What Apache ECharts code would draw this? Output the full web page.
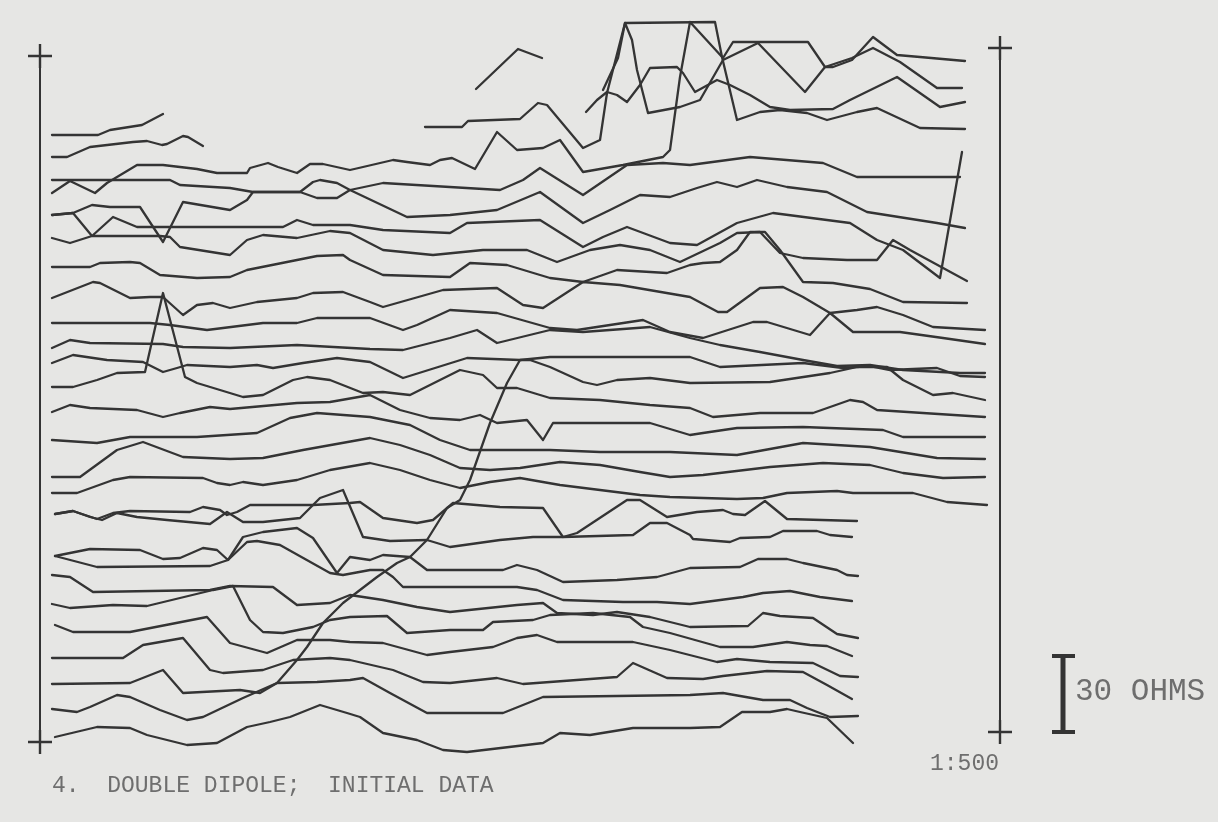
<!DOCTYPE html>
<html>
<head>
<meta charset="utf-8">
<script src="https://cdn.jsdelivr.net/npm/echarts@6/dist/echarts.min.js"></script>
<style>
html,body{margin:0;padding:0;background:#e6e6e4;}
#c{width:1218px;height:822px;}
</style>
</head>
<body>
<div id="c"></div>
<script>
// Distance along the profile (x) and plotted level (y, downward) for each dipole profile.
const p01 = [[12,85],[58,85],[70,80],[102,75],[123,64]];
const p02 = [[12,107],[27,107],[50,97],[93,92],[107,91],[122,95],[127,94],[143,86],[148,87],[163,96]];
const p03 = [[436,39],[478,-1],[502,8]];
const p04 = [[385,77],[422,77],[428,71],[480,69],[498,53],[507,55],[543,98],[560,90],[567,43],[585,-27],[675,-28],[682,7],[697,70],[720,62],[740,60],[767,63],[787,70],[817,62],[837,58],[880,78],[925,79]];
const p05 = [[546,62],[557,50],[567,42],[577,45],[587,52],[600,35],[610,18],[637,17],[643,23],[655,42],[677,30],[690,35],[710,45],[730,57],[750,60],[793,59],[810,50],[857,27],[900,57],[925,52]];
const p06 = [[563,40],[578,8],[585,-27],[592,-10],[597,20],[608,63],[640,57],[660,50],[683,10],[718,-7],[765,42],[785,17],[812,8],[833,-2],[860,12],[897,38],[922,38]];
const p07 = [[12,143],[30,131],[55,143],[67,133],[77,127],[97,115],[123,115],[157,119],[177,123],[207,123],[210,118],[228,113],[238,117],[257,123],[270,114],[283,114],[310,120],[323,117],[353,110],[367,112],[390,115],[400,110],[412,108],[435,119],[457,82],[477,100],[503,98],[520,90],[543,122],[583,115],[623,107],[630,100],[640,27],[650,-28],[683,8],[693,-8],[768,-8],[785,17],[793,17],[812,10],[833,-13],[857,5],[880,7],[925,11]];
const p08 = [[12,130],[130,130],[140,135],[190,138],[213,142],[260,142],[273,132],[280,130],[297,133],[310,140],[367,167],[410,165],[457,160],[500,142],[543,173],[570,160],[600,145],[630,147],[657,138],[677,132],[697,137],[717,130],[747,137],[787,142],[827,162],[897,173],[925,178]];
const p09 = [[12,165],[33,163],[52,155],[70,157],[100,157],[123,192],[143,152],[190,160],[207,150],[213,142],[260,142],[277,148],[297,148],[310,140],[343,133],[460,140],[483,130],[500,118],[543,145],[587,115],[623,113],[650,115],[710,107],[783,113],[817,127],[920,127]];
const p10 = [[12,165],[33,163],[52,186],[120,186],[130,187],[140,197],[190,205],[207,190],[223,185],[257,188],[290,181],[310,183],[343,200],[393,205],[443,200],[487,200],[517,212],[550,200],[580,195],[610,200],[640,212],[680,193],[697,183],[720,182],[740,203],[763,208],[807,210],[837,210],[853,190],[870,200],[927,231]];
const p11 = [[12,188],[30,193],[52,186],[73,167],[97,177],[243,177],[257,170],[273,175],[310,175],[343,180],[410,183],[427,173],[500,170],[543,197],[563,187],[587,177],[630,193],[657,195],[697,173],[733,163],[810,173],[837,190],[863,200],[900,228],[922,102]];
const p12 = [[12,217],[50,217],[60,213],[90,212],[100,213],[120,225],[157,228],[190,227],[207,220],[257,210],[277,206],[303,205],[310,210],[343,225],[410,227],[430,213],[467,215],[510,228],[543,232],[577,220],[627,223],[650,215],[663,213],[680,212],[697,200],[710,182],[725,182],[740,200],[763,232],[793,233],[830,239],[863,252],[927,253]];
const p13 = [[12,248],[53,232],[60,233],[90,248],[110,247],[123,247],[143,265],[157,255],[173,253],[190,258],[217,252],[257,248],[273,243],[303,242],[330,252],[343,257],[403,240],[457,238],[483,255],[503,258],[543,232],[580,235],[650,247],[678,262],[687,262],[720,238],[743,237],[763,247],[790,263],[817,260],[837,257],[863,265],[893,277],[945,280]];
const p14 = [[12,273],[110,273],[130,275],[167,280],[183,278],[223,273],[257,273],[277,268],[330,268],[363,280],[377,275],[410,260],[457,263],[510,278],[537,280],[603,270],[630,282],[663,288],[713,272],[727,272],[770,285],[790,263],[813,282],[860,282],[903,288],[945,294]];
const p15 = [[12,298],[30,290],[50,293],[123,294],[143,297],[190,298],[257,295],[330,299],[363,300],[410,288],[437,280],[457,293],[510,280],[543,282],[610,277],[650,288],[680,295],[720,302],[763,310],[797,316],[830,315],[863,320],[920,323],[945,323]];
const p16 = [[12,313],[33,305],[67,310],[103,312],[123,322],[137,318],[147,315],[190,317],[217,315],[233,318],[263,313],[297,308],[330,312],[363,328],[427,308],[480,310],[510,307],[650,307],[680,317],[763,313],[803,318],[830,316],[850,320],[897,318],[920,326],[945,327]];
const p17 = [[12,337],[33,337],[57,330],[77,323],[105,322],[123,243],[145,327],[157,333],[203,347],[223,345],[253,330],[267,327],[290,330],[323,343],[343,342],[370,345],[400,330],[420,320],[443,325],[457,338],[477,338],[510,348],[560,350],[610,355],[650,358],[673,367],[720,363],[773,363],[810,350],[823,352],[837,360],[883,363],[945,367]];
const p18 = [[12,362],[30,355],[50,358],[97,360],[123,367],[140,363],[170,357],[190,359],[257,353],[290,352],[330,345],[360,360],[390,368],[420,370],[440,365],[457,373],[487,370],[503,390],[513,373],[610,373],[650,385],[663,383],[697,378],[763,377],[843,380],[863,387],[945,387]];
const p19 = [[12,390],[57,393],[90,387],[157,387],[217,383],[250,368],[277,363],[330,367],[370,375],[400,390],[430,400],[470,400],[510,400],[560,402],[630,402],[697,405],[763,393],[830,397],[897,408],[945,409]];
const p20 = [[12,427],[40,427],[77,400],[103,392],[143,407],[190,409],[223,408],[263,400],[330,388],[360,395],[390,405],[420,418],[450,420],[480,418],[520,412],[560,415],[600,422],[630,427],[663,425],[730,417],[783,413],[830,415],[863,423],[903,428],[945,427]];
const p21 = [[12,443],[37,443],[73,430],[90,427],[163,428],[177,433],[190,435],[203,432],[223,435],[257,430],[290,420],[330,413],[360,420],[390,430],[420,438],[450,432],[480,428],[520,435],[560,440],[600,445],[630,447],[697,449],[723,448],[747,443],[797,441],[813,443],[873,443],[907,452],[947,455]];
const p22 = [[15,464],[33,461],[57,469],[73,463],[90,461],[150,462],[163,457],[180,460],[187,465],[197,462],[210,455],[273,455],[310,453],[320,452],[343,468],[377,473],[393,470],[413,453],[460,457],[503,458],[523,487],[593,485],[610,473],[627,473],[650,485],[653,489],[690,492],[700,488],[730,487],[743,481],[777,481],[790,485],[812,487]];
const p23 = [[15,464],[33,461],[50,467],[62,470],[77,463],[97,467],[127,470],[170,474],[187,462],[203,472],[223,472],[260,468],[280,448],[303,440],[323,487],[350,491],[387,490],[410,497],[460,490],[493,487],[523,487],[537,483],[587,450],[600,450],[627,467],[657,462],[683,460],[693,464],[705,465],[725,451],[747,469],[817,471]];
const p24 = [[15,506],[50,499],[100,500],[123,509],[140,508],[163,498],[177,500],[188,510],[207,492],[217,491],[240,495],[290,523],[303,525],[330,520],[343,520],[353,527],[363,537],[477,537],[497,540],[523,550],[583,552],[617,552],[650,554],[703,547],[723,543],[750,541],[780,547],[812,551]];
const p25 = [[15,506],[57,517],[170,516],[188,510],[203,487],[223,482],[257,478],[273,488],[297,523],[310,507],[330,510],[343,505],[370,507],[387,520],[463,520],[477,515],[497,520],[523,532],[577,530],[617,527],[650,518],[700,517],[718,509],[747,509],[763,513],[797,520],[807,525],[818,526]];
const p26 = [[12,525],[30,527],[53,542],[170,540],[190,536],[233,537],[257,555],[290,553],[310,545],[343,550],[377,557],[410,562],[477,555],[503,553],[517,563],[553,565],[577,562],[610,567],[650,577],[708,576],[723,563],[740,566],[773,568],[797,584],[818,588]];
const p27 = [[12,554],[30,558],[73,555],[107,556],[173,540],[193,536],[210,570],[223,582],[243,583],[273,577],[290,570],[310,567],[347,566],[367,583],[410,580],[443,580],[453,572],[493,570],[510,565],[553,563],[590,567],[603,577],[630,583],[680,597],[713,597],[747,592],[770,595],[787,596],[812,606]];
const p28 = [[15,575],[33,582],[90,582],[167,567],[190,593],[227,603],[257,590],[290,590],[310,592],[343,593],[387,605],[410,602],[453,597],[477,588],[497,585],[517,592],[593,592],[630,600],[677,612],[697,609],[730,612],[773,613],[800,626],[818,627]];
const p29 = [[12,608],[83,608],[103,595],[143,588],[170,620],[183,623],[223,620],[253,610],[290,608],[310,610],[353,620],[383,632],[410,633],[457,628],[483,634],[510,632],[577,627],[593,613],[627,628],[663,629],[683,626],[727,621],[763,622],[787,635],[812,649]];
const p30 = [[12,634],[90,633],[123,620],[143,643],[200,640],[220,643],[237,633],[277,632],[310,630],[323,628],[350,643],[387,663],[463,663],[503,647],[650,645],[683,643],[723,650],[750,650],[767,658],[790,667],[818,666]];
const p31 = [[12,659],[37,662],[50,657],[77,645],[90,647],[120,660],[147,670],[163,667],[203,648],[237,633],[257,610],[267,597],[283,573],[303,553],[337,527],[357,513],[370,507],[387,490],[407,458],[420,450],[430,430],[450,373],[467,333],[480,310],[490,310],[510,317],[543,332],[557,335],[577,330],[610,328],[650,333],[730,332],[790,323],[817,317],[847,317],[863,330],[893,345],[913,343],[945,350]];
const p32 = [[15,687],[57,677],[90,678],[107,685],[147,695],[177,693],[207,677],[230,672],[250,667],[280,655],[307,663],[320,667],[343,683],[377,690],[403,700],[427,702],[503,693],[520,683],[550,685],[593,678],[650,678],[680,677],[702,662],[730,662],[747,659],[760,662],[787,668],[813,693]];

const profiles = [p01,p02,p03,p04,p05,p06,p07,p08,p09,p10,p11,p12,p13,p14,p15,p16,p17,p18,p19,p20,p21,p22,p23,p24,p25,p26,p27,p28,p29,p30,p31,p32];

// Scale bar: 30 ohms corresponds to this many plot units
const scaleOhms = 30;
const scaleUnits = 76;
const scaleBase = 682;

const captionText = '4.  DOUBLE DIPOLE;  INITIAL DATA';
const scaleText = '1:500';
const ohmText = '30 OHMS';

const ink = '#343434';
const textInk = '#6e6e6e';
const cross = 'path://M9,0 H11 V9 H20 V11 H11 V20 H9 V11 H0 V9 H9 Z';

const chart = echarts.init(document.getElementById('c'), null, {renderer:'canvas'});

function frameAxis(pos, grid, offs){
  return {
    type:'value', gridIndex:grid, position:pos, min:0, max:100,
    axisLabel:{show:false}, axisTick:{show:false}, splitLine:{show:false},
    axisLine:{show:true, onZero:false, lineStyle:{color:ink, width:2},
      symbol:[cross, cross], symbolSize:[24,24], symbolOffset:offs}
  };
}

const option = {
  backgroundColor:'#e6e6e4',
  animation:false,
  grid:[
    {left:40, right:218, top:50, bottom:80},
    {left:40, right:218, top:48, bottom:72},
    {left:40, right:218, top:42, bottom:80}
  ],
  xAxis:[
    {type:'value', gridIndex:0, min:0, max:960, show:false},
    {type:'value', gridIndex:1, min:0, max:1, show:false},
    {type:'value', gridIndex:2, min:0, max:1, show:false}
  ],
  yAxis:[
    {type:'value', gridIndex:0, min:0, max:692, inverse:true, show:false},
    frameAxis('left', 1, [8,-8]),
    frameAxis('right', 2, [10,-6])
  ],
  series: profiles.map((d,i)=>({
    type:'line', name:'profile '+(i+1), data:d, xAxisIndex:0, yAxisIndex:0,
    symbol:'none', showSymbol:false, clip:false, smooth:false,
    lineStyle:{color:ink, width:2.3, join:'round', cap:'round'},
    emphasis:{disabled:true}, silent:true
  }))
};
chart.setOption(option);

const topPx = chart.convertToPixel({yAxisIndex:0}, scaleBase - scaleUnits);
const botPx = chart.convertToPixel({yAxisIndex:0}, scaleBase);
const barX = 1063;
chart.setOption({
  graphic:[
    {type:'rect', shape:{x:barX-2.5, y:topPx, width:5, height:botPx-topPx}, style:{fill:ink}},
    {type:'rect', shape:{x:barX-11, y:topPx-2, width:23, height:4}, style:{fill:ink}},
    {type:'rect', shape:{x:barX-11, y:botPx-2, width:23, height:4}, style:{fill:ink}},
    {type:'text', left:1075, top:(topPx+botPx)/2 - 18,
      style:{text:ohmText, font:'31px "Liberation Mono", "DejaVu Sans Mono", monospace', fill:textInk}},
    {type:'text', left:52, top:774,
      style:{text:captionText, font:'23px "Liberation Mono", "DejaVu Sans Mono", monospace', fill:textInk}},
    {type:'text', left:930, top:752,
      style:{text:scaleText, font:'23px "Liberation Mono", "DejaVu Sans Mono", monospace', fill:textInk}}
  ]
});
</script>
</body>
</html>
